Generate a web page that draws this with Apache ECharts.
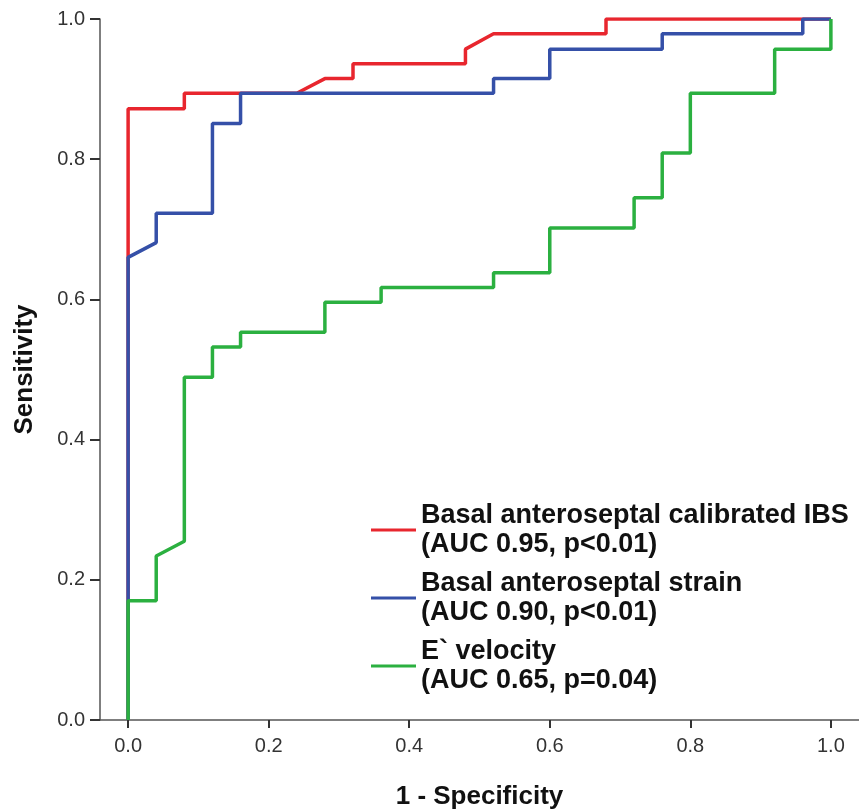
<!DOCTYPE html>
<html>
<head>
<meta charset="utf-8">
<script src="https://cdn.jsdelivr.net/npm/echarts@6/dist/echarts.min.js"></script>
<style>
html,body{margin:0;padding:0;background:#fff;}
#roc{width:859px;height:809px;}
</style>
</head>
<body>
<div id="roc"></div>
<script>
/* ROC curves */
var tickValues = [0, 0.2, 0.4, 0.6, 0.8, 1.0];
var seriesNames = [
    'Basal anteroseptal calibrated IBS\n(AUC 0.95, p<0.01)',
    'Basal anteroseptal strain\n(AUC 0.90, p<0.01)',
    'E` velocity\n(AUC 0.65, p=0.04)'
];
// 1 - specificity / sensitivity
var ibsX = [0, 0, 0.08, 0.08, 0.24, 0.28, 0.32, 0.32, 0.48, 0.48, 0.52, 0.68, 0.68, 1.0];
var ibsY = [0, 0.872, 0.872, 0.894, 0.894, 0.915, 0.915, 0.936, 0.936, 0.957, 0.979, 0.979, 1.0, 1.0];
var strainX = [0, 0, 0.04, 0.04, 0.12, 0.12, 0.16, 0.16, 0.52, 0.52, 0.60, 0.60, 0.76, 0.76, 0.96, 0.96, 1.0];
var strainY = [0, 0.660, 0.681, 0.723, 0.723, 0.851, 0.851, 0.894, 0.894, 0.915, 0.915, 0.957, 0.957, 0.979, 0.979, 1.0, 1.0];
var velX = [0, 0, 0.04, 0.04, 0.08, 0.08, 0.12, 0.12, 0.16, 0.16, 0.28, 0.28, 0.36, 0.36, 0.52, 0.52, 0.60, 0.60, 0.72, 0.72, 0.76, 0.76, 0.80, 0.80, 0.92, 0.92, 1.0, 1.0];
var velY = [0, 0.170, 0.170, 0.234, 0.255, 0.489, 0.489, 0.532, 0.532, 0.553, 0.553, 0.596, 0.596, 0.617, 0.617, 0.638, 0.638, 0.702, 0.702, 0.745, 0.745, 0.809, 0.809, 0.894, 0.894, 0.957, 0.957, 1.0];

function pairs(xs, ys){
    var out = [];
    for (var i = 0; i < xs.length; i++) { out.push([xs[i], ys[i]]); }
    return out;
}
function rocLine(name, color, xs, ys){
    return {
        name: name,
        type: 'line',
        showSymbol: false,
        data: pairs(xs, ys),
        lineStyle: { width: 3.5, color: color },
        itemStyle: { color: color }
    };
}

var axisFont = 'Liberation Sans, Arial, sans-serif';
var option = {
    animation: false,
    backgroundColor: '#fff',
    grid: { left: 100, top: 19, width: 759, height: 701, outerBoundsMode: 'none' },
    legend: {
        orient: 'vertical',
        left: 366,
        top: 496,
        icon: 'rect',
        itemWidth: 45,
        itemHeight: 3,
        itemGap: 10,
        data: seriesNames,
        textStyle: { fontFamily: axisFont, fontWeight: 'bold', fontSize: 27, lineHeight: 29, color: '#111' }
    },
    xAxis: {
        type: 'value',
        min: -0.04,
        max: 1.04,
        name: '1 - Specificity',
        nameLocation: 'middle',
        nameGap: 64,
        nameTextStyle: { fontFamily: axisFont, fontWeight: 'bold', fontSize: 26, color: '#111' },
        splitLine: { show: false },
        axisLine: { onZero: false, lineStyle: { color: '#555', width: 1.5 } },
        axisTick: { customValues: tickValues, length: 8, lineStyle: { color: '#333', width: 2 } },
        axisLabel: {
            customValues: tickValues,
            margin: 16,
            fontFamily: axisFont, fontSize: 20, color: '#333',
            formatter: function (v) { return v.toFixed(1); }
        }
    },
    yAxis: {
        type: 'value',
        min: 0,
        max: 1,
        interval: 0.2,
        name: 'Sensitivity',
        nameLocation: 'middle',
        nameGap: 62,
        nameTextStyle: { fontFamily: axisFont, fontWeight: 'bold', fontSize: 26, color: '#111' },
        splitLine: { show: false },
        axisLine: { show: true, onZero: false, lineStyle: { color: '#555', width: 1.5 } },
        axisTick: { show: true, length: 10, lineStyle: { color: '#333', width: 2 } },
        axisLabel: {
            margin: 15,
            fontFamily: axisFont, fontSize: 20, color: '#333',
            formatter: function (v) { return v.toFixed(1); }
        }
    },
    series: [
        rocLine(seriesNames[0], '#e8262e', ibsX, ibsY),
        rocLine(seriesNames[1], '#3550a8', strainX, strainY),
        rocLine(seriesNames[2], '#2bb040', velX, velY)
    ]
};
echarts.init(document.getElementById('roc')).setOption(option);
</script>
</body>
</html>
